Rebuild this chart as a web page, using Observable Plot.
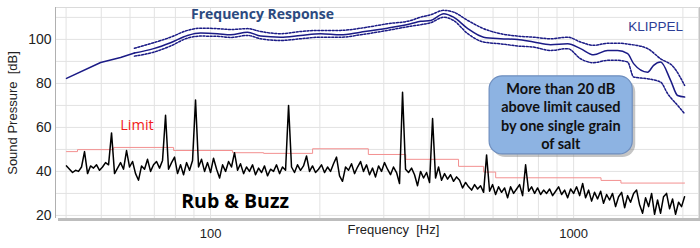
<!DOCTYPE html>
<html><head><meta charset="utf-8">
<script src="https://cdn.jsdelivr.net/npm/d3@7"></script>
<script src="https://cdn.jsdelivr.net/npm/@observablehq/plot@0.6"></script>
<style>html,body{margin:0;padding:0;background:#fff} svg{display:block}</style>
</head><body><div id="chart"></div>
<script>
// ---- data ----
const xDomain = [37.4, 2208];
const yDomain = [18.6, 114.5];
const xTicks = [100, 1000];
const yTicks = [20, 40, 60, 80, 100];
const gridFreq = [40, 50, 60, 70, 80, 90, 100, 200, 300, 400, 500, 600, 700, 800, 900, 1000, 2000];
const gridDb = [20, 30, 40, 50, 60, 70, 80, 90, 100, 110];

// frequency response: single low-frequency part
const frLowFreq = [40.1, 49.8, 56.5, 61.7];
const frLowDb = [82.3, 89.5, 91.8, 93.8];

// frequency response: middle (solid)
const frMidFreq = [61.7, 69.7, 77.6, 86.4, 93.9, 104.5, 113.5, 126.4, 137.3, 155.9, 177, 201, 228, 259, 307, 356, 379, 404, 439, 467, 511, 565, 629, 701, 776, 864, 963, 1045, 1135, 1241, 1322, 1409, 1463, 1599, 1661, 1736, 1850, 1934, 2022];
const frMidDb = [93.8, 95.8, 98.5, 101.8, 102.9, 102.6, 102.1, 103.3, 101.5, 101.0, 101.8, 102.6, 102.1, 103.3, 105.1, 107.1, 108.2, 108.6, 111.7, 110.1, 104.9, 101.0, 100.3, 100.0, 98.8, 97.6, 98.0, 95.8, 93.0, 95.0, 95.0, 93.5, 89.0, 85.1, 88.2, 89.7, 81.4, 74.5, 73.8];

// upper tolerance (dotted)
const frUpFreq = [61.7, 69.7, 77.6, 86.4, 93.9, 104.5, 113.5, 126.4, 137.3, 155.9, 177, 201, 228, 259, 307, 356, 379, 404, 439, 467, 511, 565, 629, 701, 776, 864, 963, 1045, 1135, 1241, 1348, 1436, 1599, 1736, 1886, 2022];
const frUpDb = [96.0, 98.5, 101.0, 104.1, 105.1, 104.9, 104.5, 104.9, 103.6, 102.6, 103.6, 104.1, 104.1, 105.1, 107.1, 108.6, 110.1, 111.2, 113.2, 112.4, 108.6, 104.9, 102.6, 101.5, 101.0, 100.3, 101.0, 98.8, 97.3, 98.2, 98.2, 97.7, 95.8, 91.2, 87.4, 79.1];

// lower tolerance (dotted)
const frLoFreq = [61.7, 69.7, 77.6, 86.4, 93.9, 104.5, 113.5, 126.4, 137.3, 155.9, 177, 201, 228, 259, 307, 356, 379, 404, 439, 467, 511, 565, 629, 701, 776, 864, 963, 1045, 1135, 1241, 1322, 1409, 1463, 1599, 1736, 1816, 1934, 2022];
const frLoDb = [92.4, 94.2, 97.0, 100.6, 101.5, 101.4, 100.9, 101.8, 100.3, 99.5, 100.3, 101.0, 101.0, 102.1, 104.1, 106.0, 106.7, 107.6, 110.1, 108.6, 102.6, 98.8, 98.0, 97.0, 96.5, 95.0, 95.8, 91.2, 89.4, 90.5, 90.5, 89.7, 82.9, 82.1, 80.6, 75.3, 70.0, 66.2];

// limit (step)
const limitFreq = [40.1, 43.0, 54.1, 79.1, 115, 140, 191, 272, 345, 482, 565, 610, 1190, 1350, 2022];
const limitDb = [49.0, 49.9, 50.9, 49.5, 48.5, 48.2, 50.3, 47.7, 45.5, 42.3, 39.7, 37.1, 35.9, 34.7, 34.7];

// rub & buzz measurement
const rbFreq = [40.11, 40.88, 41.67, 42.47, 43.28, 44.11, 44.96, 45.83, 46.71, 47.60, 48.52, 49.45, 50.40, 51.37, 52.36, 53.36, 54.39, 55.43, 56.50, 57.58,
  58.69, 59.82, 60.97, 62.14, 63.33, 64.55, 65.79, 67.05, 68.34, 69.65, 70.99, 72.35, 73.74, 75.16, 76.60, 78.08, 79.58, 81.11, 82.66, 84.25,
  85.87, 87.52, 89.20, 90.91, 92.66, 94.44, 96.26, 98.10, 100.0, 101.9, 103.9, 105.9, 107.9, 110.0, 112.1, 114.2, 116.4, 118.7, 120.9, 123.3,
  125.6, 128.0, 130.5, 133.0, 135.6, 138.2, 140.8, 143.5, 146.3, 149.1, 151.9, 154.9, 157.8, 160.9, 164.0, 167.1, 170.3, 173.6, 176.9, 180.3,
  183.8, 187.3, 190.9, 194.6, 198.3, 202.1, 206.0, 210.0, 214.0, 218.1, 222.3, 226.6, 230.9, 235.4, 239.9, 244.5, 249.2, 254.0, 258.9, 263.8,
  268.9, 274.1, 279.3, 284.7, 290.2, 295.7, 301.4, 307.2, 313.1, 319.1, 325.3, 331.5, 337.9, 344.4, 351.0, 357.8, 364.6, 371.6, 378.8, 386.1,
  393.5, 401.1, 408.8, 416.6, 424.6, 432.8, 441.1, 449.6, 458.2, 467.0, 476.0, 485.2, 494.5, 504.0, 513.7, 523.6, 533.6, 543.9, 554.3, 565.0,
  575.8, 586.9, 598.2, 609.7, 621.4, 633.3, 645.5, 657.9, 670.5, 683.4, 696.6, 709.9, 723.6, 737.5, 751.7, 766.1, 780.8, 795.8, 811.1, 826.7,
  842.6, 858.8, 875.3, 892.1, 909.2, 926.7, 944.5, 962.7, 981.2, 1000, 1019, 1039, 1059, 1079, 1100, 1121, 1142, 1164, 1187, 1209,
  1233, 1256, 1280, 1305, 1330, 1356, 1382, 1408, 1435, 1463, 1491, 1519, 1549, 1578, 1609, 1640, 1671, 1703, 1736, 1769,
  1803, 1838, 1873, 1909, 1946, 1983, 2021];
const rbDb = [42.5, 41, 39.5, 40.5, 40, 42, 49, 39, 42.5, 41.5, 43, 40.5, 42, 44, 43, 57.5, 39, 41.5, 44, 41,
  49.5, 42, 44.5, 39, 36, 42.5, 41, 45.5, 40, 43, 44.5, 41.5, 45, 65.5, 41, 44, 46.5, 39, 43, 38.5,
  44, 40.5, 45, 72.5, 42, 45.5, 40, 44, 39.5, 46, 41, 37, 43, 40, 44.5, 42, 48.5, 40.5, 43.5, 39,
  42, 40, 43, 38.5, 41.5, 39.5, 42.5, 38, 41, 40, 43, 39, 42, 40.5, 70, 42, 39.5, 43, 40.5, 42.5,
  47, 40, 42.5, 39.5, 41, 43, 39.5, 42, 40, 43.5, 46.5, 38, 35.5, 42, 40.5, 43.5, 39, 42, 44.5, 40,
  43, 38.5, 41.5, 37.5, 42.5, 40, 44, 41, 38.5, 42, 39.5, 34.5, 76, 41, 39.5, 41.5, 38.5, 33.5, 40, 37,
  39.5, 35, 64, 37, 42, 36, 39, 36.5, 38.5, 35.5, 37.5, 36, 32.5, 35, 33, 31.5, 34, 32, 33.5, 30.5,
  47.5, 31, 34, 29.5, 33, 30.5, 32.5, 28, 33, 30, 32, 34, 29, 43, 31, 33, 30, 32.5, 29.5, 31.5,
  30, 32, 29, 31, 33, 29.5, 31.5, 28, 32, 30, 33, 29, 34.5, 28, 31.5, 26.5, 30.5, 27.5, 31, 25.5,
  29.5, 27, 30, 24, 28.5, 30.5, 23.5, 29, 26, 30, 31.5, 25, 21, 28, 24, 30, 20.5, 27, 21, 28.5,
  30, 23, 27.5, 20.5, 26, 24, 28.5];

const calloutLines = "More than 20 dB\nabove limit caused\nby one single grain\nof salt";

// ---- build tables ----
const zip = (fs, ds) => fs.map((f, i) => ({f, db: ds[i]}));
const frLow = zip(frLowFreq, frLowDb);
const frMid = zip(frMidFreq, frMidDb);
const frUp = zip(frUpFreq, frUpDb);
const frLo = zip(frLoFreq, frLoDb);
const limit = zip(limitFreq, limitDb);
const rb = zip(rbFreq, rbDb);
const yMid = (yDomain[0] + yDomain[1]) / 2;

const navy = "#1b1b86";
const chart = Plot.plot({
  width: 700,
  height: 248,
  marginLeft: 55,
  marginRight: 2,
  marginTop: 7,
  marginBottom: 30,
  style: {fontFamily: "'Liberation Sans', Arial, sans-serif", fontSize: "13px", background: "#fff", color: "#222", overflow: "visible"},
  x: {type: "log", domain: xDomain, label: null, axis: null},
  y: {domain: yDomain, label: null, axis: null},
  marks: [
    Plot.ruleY(gridDb, {stroke: "#e2e2e2", strokeWidth: 1}),
    Plot.ruleX(gridFreq, {stroke: "#e2e2e2", strokeWidth: 1}),
    Plot.ruleX([xDomain[1]], {stroke: "#c4c4c4", strokeWidth: 2, dx: 1}),
    Plot.ruleY([yDomain[1]], {stroke: "#dadada", strokeWidth: 1}),
    Plot.ruleX([xDomain[0]], {stroke: "#b0b0b0", strokeWidth: 1}),
    Plot.ruleY([yDomain[0]], {stroke: "#bdbdbd", strokeWidth: 3, dy: 1, dx: 3}),
    Plot.axisX(xTicks, {tickSize: 0, tickPadding: 10, tickFormat: d => String(d), fontSize: 13, label: null}),
    Plot.axisY(yTicks, {tickSize: 0, tickPadding: 4, fontSize: 14, label: null}),
    Plot.line(limit, {x: "f", y: "db", curve: "step-after", stroke: "#f39090", strokeWidth: 1}),
    Plot.line(rb, {x: "f", y: "db", stroke: "#000", strokeWidth: 1.5}),
    Plot.line(frLow, {x: "f", y: "db", stroke: navy, strokeWidth: 1.5}),
    Plot.line(frMid, {x: "f", y: "db", stroke: navy, strokeWidth: 1.5, curve: "monotone-x"}),
    Plot.line(frUp, {x: "f", y: "db", stroke: navy, strokeWidth: 1.5, strokeDasharray: "2 1.6", curve: "monotone-x"}),
    Plot.line(frLo, {x: "f", y: "db", stroke: navy, strokeWidth: 1.5, strokeDasharray: "2 1.6", curve: "monotone-x"}),
    // callout box with shadow
    Plot.rect([0], {x1: 587, x2: 1455, y1: 47.7, y2: 83.2, rx: 13, fill: "#7f7f7f", fillOpacity: 0.45, dx: 3, dy: 3}),
    Plot.rect([0], {x1: 587, x2: 1455, y1: 47.7, y2: 83.2, rx: 13, fill: "#8db3e2", stroke: "#6f8fbf", strokeWidth: 1.2}),
    Plot.text([calloutLines], {x: 922, y: 65.4, text: d => d, fontFamily: "Lato, 'Open Sans', sans-serif", fontWeight: "bold", fontSize: 14.5, lineHeight: 1.28, fill: "#111"}),
    // annotations
    Plot.text(["Frequency Response"], {x: 139, y: 111.4, text: d => d, fontFamily: "'Open Sans', Lato, sans-serif", fontWeight: "bold", fontSize: 14, fill: "#2c4a80"}),
    Plot.text(["KLIPPEL"], {x: 1683, y: 105.9, text: d => d, fontSize: 13.5, fill: "#2d3e96"}),
    Plot.text(["Limit"], {x: 62.7, y: 60.9, text: d => d, fontFamily: "'Open Sans', Lato, sans-serif", fontSize: 14.5, fill: "#f21c1c"}),
    Plot.text(["Rub & Buzz"], {x: 116.8, y: 26, text: d => d, fontFamily: "'Open Sans', Lato, sans-serif", fontWeight: "bold", fontSize: 19.5, fill: "#000"}),
    Plot.text(["Frequency\u00a0 [Hz]"], {x: 319, frameAnchor: "bottom", dy: 15, text: d => d, fontSize: 13, fill: "#222"}),
    Plot.text(["Sound Pressure\u00a0 [dB]"], {x: xDomain[0], y: yMid, dx: -43, rotate: -90, textAnchor: "middle", lineAnchor: "middle", text: d => d, fontSize: 13, fill: "#222"})
  ]
});
document.getElementById("chart").appendChild(chart);
</script>
</body></html>
